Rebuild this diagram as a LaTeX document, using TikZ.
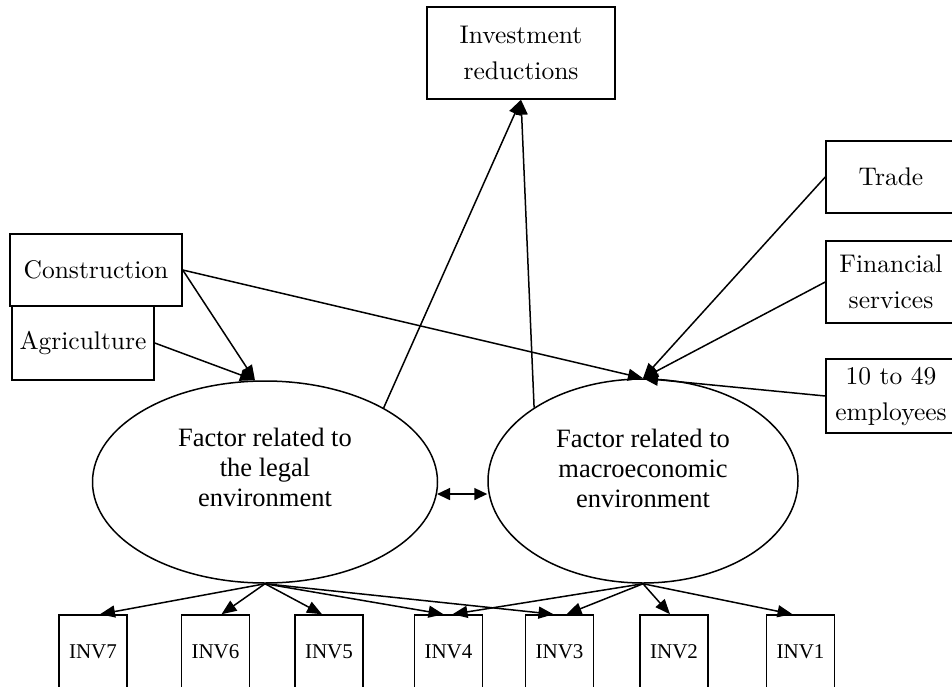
\documentclass[tikz,border=0pt]{standalone}
\usepackage{fontspec}
\usepackage{tikz}
\usetikzlibrary{arrows.meta,shapes.geometric}
\newfontfamily\timesfont{Liberation Serif}
\newfontfamily\boxfont{lmroman10-regular.otf}

\begin{document}
\begin{tikzpicture}[x=1pt,y=-1pt]
    \tikzstyle{box}=[draw=black,line width=1.5pt,inner sep=0pt,align=center,font=\boxfont\fontsize{25.5}{36}\selectfont]
    \tikzstyle{latent}=[draw=black,line width=1.5pt,ellipse,inner sep=0pt]
    \tikzstyle{latenttext}=[align=center,font=\timesfont\fontsize{26.5}{30}\selectfont]
    \tikzstyle{indicator}=[draw=black,line width=1.5pt,inner sep=0pt,minimum width=68pt,minimum height=74pt,font=\timesfont\fontsize{21}{25}\selectfont]
    \tikzstyle{effect}=[line width=1.5pt,-{Triangle[length=15pt,width=12pt]}]
    \tikzstyle{twoway}=[line width=1.5pt,{Triangle[length=13pt,width=12pt]}-{Triangle[length=13pt,width=12pt]}]
    \useasboundingbox (0,0) rectangle (952,687);
    \clip (0,0) rectangle (952,687);

    \node[box,minimum width=188pt,minimum height=92pt] (invest) at (521,53) {Investment\\reductions};
    \node[box,minimum width=172pt,minimum height=72pt] (constr) at (96,270) {Construction};
    \node[box,minimum width=142pt,minimum height=74pt] (agri) at (83,343) {Agriculture};
    \node[box,minimum width=130pt,minimum height=72pt] (trade) at (891,177) {Trade};
    \node[box,minimum width=130pt,minimum height=82pt] (fin) at (891,282) {Financial\\services};
    \node[box,minimum width=130pt,minimum height=74pt] (small) at (891,396) {10 to 49\\employees};

    \node[latent,minimum width=345pt,minimum height=202pt] (legal) at (265,482) {};
    \node[latenttext] (legaltext) at (265,467) {Factor related to\\the legal\\environment};
    \node[latent,minimum width=310pt,minimum height=204pt] (macro) at (643,481) {};
    \node[latenttext] (macrotext) at (643,468) {Factor related to\\macroeconomic\\environment};

    \foreach \n/\x in {7/93,6/215.5,5/329,4/448.5,3/559.5,2/674,1/800.5}
      \node[indicator] (inv\n) at (\x,652) {INV\n};

    \draw[effect] (constr.east) -- ([xshift=-10pt]legal.north);
    \draw[effect] (agri.east) -- ([xshift=-10pt]legal.north);
    \draw[effect] (constr.east) -- (macro.north);
    \draw[effect] (trade.west) -- (macro.north);
    \draw[effect] (fin.west) -- (macro.north);
    \draw[effect] (small.west) -- (macro.north);
    \draw[effect] (legal.32) -- (invest.south);
    \draw[effect] (macro.146) -- (invest.south);
    \draw[twoway] (legal.-4) -- (legal.-4 -| macro.west);

    \foreach \n/\s in {7/7,6/6,5/-7,4/-5,3/-6}
      \draw[effect] (legal.south) -- ([xshift=\s pt]inv\n.north);
    \foreach \n/\s in {4/4,3/7,2/-4,1/-8}
      \draw[effect] (macro.south) -- ([xshift=\s pt]inv\n.north);
\end{tikzpicture}
\end{document}
